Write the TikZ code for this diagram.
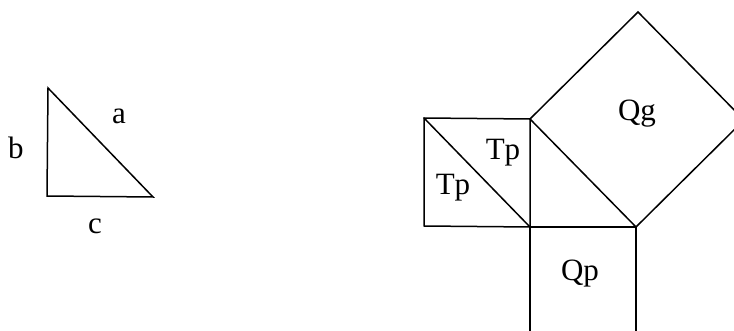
\documentclass[tikz,border=0pt]{standalone}
\usepackage{fontspec}
\setmainfont{Liberation Serif}
\usetikzlibrary{calc}

\begin{document}
\begin{tikzpicture}[x=1pt,y=-1pt,line width=1.5pt,line join=miter,
  lbl/.style={inner sep=0pt,font=\fontsize{31}{33}\selectfont}]
\useasboundingbox (0,0) rectangle (734,331);
\clip (0,0) rectangle (734,331);
% triangle
\draw (48,88)--(47,196)--(153,197)--cycle;
\node[lbl] (b) at (16,148) {b};
\node[lbl] (a) at (119,116) {a};
\node[lbl] (c) at (95,226) {c};
% squares
\draw (424,118)--(530,119)--(530,227)--(424,226)--cycle;
\draw (424,118)--(530,227);
\draw (530,119)--(638,12)--(744,120)--(636,227)--cycle;
\draw (530,227)--(636,227);
\draw (530,227)--(530,340);
\draw (636,227)--(636,340);
\node[lbl] (qg) at (637,114) {Qg};
\node[lbl] (tp1) at (503,153) {Tp};
\node[lbl] (tp2) at (453,188) {Tp};
\node[lbl] (qp) at (580,274) {Qp};
\end{tikzpicture}
\end{document}
